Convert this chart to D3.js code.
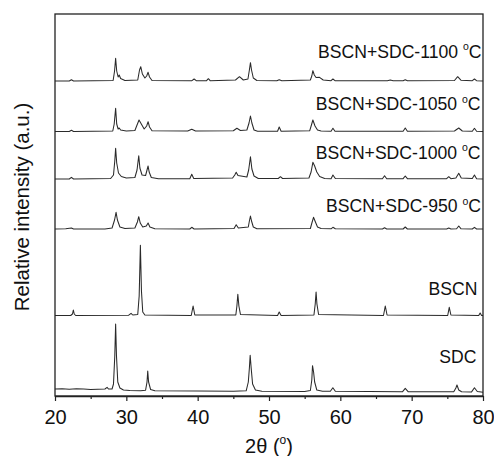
<!DOCTYPE html>
<html><head><meta charset="utf-8">
<script src="https://cdn.jsdelivr.net/npm/d3@7"></script>
<style>
html,body{margin:0;padding:0;background:#fff;}
svg{display:block;font-family:"Liberation Sans",Arial,sans-serif;}
</style></head>
<body><svg id="c" width="494" height="456"></svg>
<script>
// ---- data (2θ in degrees, relative intensity in a.u.; traces already offset) ----
const seriesNames = ["SDC","BSCN","BSCN+SDC-950","BSCN+SDC-1000","BSCN+SDC-1050","BSCN+SDC-1100"];
const sdc = [[20,7],[21,7.3],[22,6.8],[23,7.2],[24,6.9],[25,6.6],[26,6.8],[27,7],[27.3,8.7],[27.5,7],[28.0,7],[28.2,12],[28.38,40],[28.5,72],[28.62,40],[28.8,14],[29.1,8],[29.6,6],[30.5,5.5],[32,5.3],[32.7,5.8],[32.9,14],[33.0,25],[33.12,14],[33.4,6.5],[34,5.2],[40,5],[45,4.8],[46.8,5.2],[47.1,14],[47.25,28],[47.36,40.7],[47.5,28],[47.7,12],[48.1,6],[49,4.8],[55,4.5],[55.8,5.5],[56.0,16],[56.1,30.3],[56.25,24],[56.4,14],[56.7,6],[57.5,4.7],[58.6,4.8],[58.95,8.3],[59.3,4.8],[68.7,4.2],[69.1,7.7],[69.5,4.3],[75.9,4.2],[76.2,8],[76.35,11],[76.6,6],[77,4.2],[78.4,4.1],[78.8,8.3],[79.2,4.5],[80,3.8]];
const bscn = [[20,80.5],[22.2,80.5],[22.45,82],[22.57,86],[22.7,82],[22.9,80.5],[30.3,80.7],[30.66,82.7],[30.9,81],[31.6,81.5],[31.8,100],[31.97,150.7],[32.12,105],[32.3,84],[32.6,81],[39.1,80.5],[39.36,90],[39.6,81],[45.35,81],[45.5,90],[45.63,101.7],[45.78,90],[46.0,81.5],[51.2,80.5],[51.43,84],[51.7,80.5],[56.3,81],[56.48,92],[56.6,104],[56.72,92],[56.95,81.5],[66.05,80.5],[66.3,90],[66.55,81],[75.05,80.5],[75.27,88.7],[75.5,81],[79.4,80.5],[79.6,83],[79.8,80.5],[80,80.5]];
const s950 = [[20,167],[21.5,167.3],[22.3,168],[22.6,167],[27,167],[28,168],[28.35,176],[28.56,183.7],[28.75,176],[29.1,169],[29.8,167.5],[31.2,168],[31.55,174],[31.74,179.3],[31.95,173],[32.3,169],[32.8,170],[33.05,173],[33.3,169],[34,167.3],[38.9,167],[39.17,168.7],[39.5,167],[45.1,167.5],[45.4,171.3],[45.7,168],[47.1,169],[47.25,175],[47.4,180],[47.55,175],[47.8,169],[48.3,167.3],[55.8,167.5],[56.05,174],[56.24,178.7],[56.45,175],[56.8,169],[57.3,167.5],[58.7,167.2],[58.96,168.7],[59.3,167.2],[65.9,167],[66.2,168.3],[66.5,167],[68.8,167],[69.1,169],[69.4,167],[74.9,167],[75.2,168],[75.5,167],[76.3,167.2],[76.6,170],[76.9,167.3],[78.5,167],[78.8,168.7],[79.1,167],[80,167]];
const s1000 = [[20,217],[22.0,217],[22.3,218.7],[22.6,217],[27.8,217.5],[28.2,221],[28.38,235],[28.5,247.7],[28.65,233],[28.9,223],[29.3,219.5],[30,218],[31.2,218.5],[31.5,226],[31.74,240.3],[31.9,228],[32.2,221],[32.7,220.5],[32.9,226],[33.05,230],[33.2,224],[33.5,218.5],[34.5,217.3],[38.9,217.2],[39.17,221.7],[39.45,217.5],[44.9,218],[45.2,221],[45.4,223.7],[45.65,220.5],[46.9,219],[47.15,226],[47.4,239.3],[47.6,227],[47.9,220],[48.5,217.5],[51.3,217.5],[51.6,219.3],[51.9,217.5],[55.6,218],[55.9,224],[56.15,233.7],[56.4,230],[56.7,224],[57.1,219.5],[57.8,217.5],[58.7,217.3],[58.96,221],[59.3,217.5],[65.9,217.3],[66.2,220.3],[66.5,217.3],[68.8,217.3],[69.1,220],[69.4,217.3],[74.9,217.3],[75.2,219.3],[75.5,217.3],[76.2,218],[76.6,222.7],[76.95,218],[78.5,217.5],[78.8,221],[79.1,217.3],[80,217]];
const s1050 = [[20,264.5],[22.0,264.5],[22.3,265.7],[22.6,264.5],[28.1,265],[28.3,272],[28.5,287.7],[28.65,272],[28.85,267],[29.0,268],[29.2,266],[30,265],[31.2,265.5],[31.5,271],[31.78,276],[32.1,272],[32.5,267],[32.85,270],[33.05,274.3],[33.25,269],[33.6,265.2],[38.6,265],[39.17,266.7],[39.7,265],[45,265.2],[45.5,267.7],[46.0,265.5],[46.9,266],[47.2,273],[47.4,280],[47.6,273],[47.9,266],[48.4,264.8],[51.2,264.8],[51.43,269],[51.7,264.8],[55.7,265.2],[55.95,271],[56.15,276],[56.45,270],[56.8,266],[57.3,265],[58.7,264.8],[58.96,267.7],[59.25,264.8],[68.8,264.8],[69.1,268],[69.4,264.8],[76.0,265],[76.6,268],[77.1,265],[78.5,264.8],[78.8,267.7],[79.1,264.8],[80,264.5]];
const s1100 = [[20,315],[22.0,315],[22.3,316.3],[22.6,315],[28.15,315.5],[28.35,325],[28.5,337.7],[28.65,325],[28.85,319],[29.0,321],[29.2,317.5],[29.8,315.5],[31.6,316],[31.85,326],[32.02,329.3],[32.25,322],[32.6,318],[32.85,320],[33.05,323.7],[33.25,319],[33.6,315.5],[39.2,315.3],[39.5,317],[39.8,315.3],[41.25,315.3],[41.5,317.3],[41.75,315.3],[45.3,316],[45.86,319.3],[46.4,316],[47.05,317],[47.25,326],[47.4,333.3],[47.55,326],[47.8,318],[48.3,315.5],[51.1,315.3],[51.43,316.3],[51.8,315.3],[55.8,316],[56.0,320],[56.15,325.3],[56.35,321],[56.6,318.5],[57.08,318.7],[57.6,316],[58.7,315.3],[58.96,317],[59.25,315.3],[66.6,315.3],[67.0,316],[67.4,315.3],[68.8,315.3],[69.1,316.3],[69.4,315.3],[76.0,315.5],[76.45,319.3],[76.9,315.8],[78.5,315.3],[78.8,317],[79.1,315.3],[80,315]];
const seriesValues = [sdc, bscn, s950, s1000, s1050, s1100];
const labelTexts = ["SDC","BSCN","BSCN+SDC-950 ","BSCN+SDC-1000 ","BSCN+SDC-1050 ","BSCN+SDC-1100 "];
const labelUnit = [false,false,true,true,true,true];
const xMajorTicks = [20,30,40,50,60,70,80];
const xMinorTicks = [25,35,45,55,65,75];
const xTitle = "2θ (";
const yTitle = "Relative intensity (a.u.)";

// ---- layout ----
const W = 494, H = 456;
const m = {l:55, r:483, t:14, b:396};
const labelPos = [[476.5,362.5],[477.5,294.5],[481,212],[480.5,158.5],[480.5,110],[481.5,57.5]];

const svg = d3.select("#c");
const x = d3.scaleLinear().domain([20,80]).range([m.l, m.r]);
const y = d3.scaleLinear().domain([0,382]).range([m.b, m.t]);

const line = d3.line().x(d=>x(d[0])).y(d=>y(d[1]));
svg.append("g").selectAll("path").data(seriesValues).join("path")
  .attr("d", line).attr("fill","none").attr("stroke","#2a2a2a")
  .attr("stroke-width",1.05).attr("stroke-linejoin","round");

// frame
svg.append("rect").attr("x",m.l).attr("y",m.t).attr("width",m.r-m.l).attr("height",m.b-m.t)
  .attr("fill","none").attr("stroke","#222").attr("stroke-width",1.3);

// x axis
const gx = svg.append("g").attr("transform",`translate(0,${m.b})`)
  .call(d3.axisBottom(x).tickValues(xMajorTicks).tickFormat(d3.format("d")).tickSizeInner(5).tickSizeOuter(0).tickPadding(9));
gx.select(".domain").attr("stroke","#222").attr("stroke-width",1.3);
gx.selectAll(".tick line").attr("stroke","#222").attr("stroke-width",1.2);
gx.selectAll(".tick text").attr("font-size",20).attr("fill","#111").attr("font-family","Liberation Sans, Arial, sans-serif");
const gm = svg.append("g").attr("transform",`translate(0,${m.b})`)
  .call(d3.axisBottom(x).tickValues(xMinorTicks).tickFormat("").tickSizeInner(3).tickSizeOuter(0));
gm.select(".domain").remove();
gm.selectAll(".tick line").attr("stroke","#222").attr("stroke-width",1.2);

// x title
const xt = svg.append("text").attr("x",(m.l+m.r)/2).attr("y",453).attr("text-anchor","middle")
  .attr("font-size",20).attr("fill","#111");
xt.append("tspan").text(xTitle);
xt.append("tspan").text("o").attr("font-size",12).attr("dy",-9);
xt.append("tspan").text(")").attr("dy",9);

// y title
svg.append("text").attr("transform","translate(28.5,207) rotate(-90)").attr("text-anchor","middle")
  .attr("font-size",20.5).attr("fill","#111").text(yTitle);

// series labels
labelTexts.forEach((t,i)=>{
  const tx = svg.append("text").attr("x",labelPos[i][0]).attr("y",labelPos[i][1])
    .attr("text-anchor","end").attr("font-size",17.6).attr("fill","#111");
  tx.append("tspan").text(t);
  if(labelUnit[i]){
    tx.append("tspan").text("o").attr("font-size",10.5).attr("dy",-7.5);
    tx.append("tspan").text("C").attr("dy",7.5);
  }
});
</script></body></html>
